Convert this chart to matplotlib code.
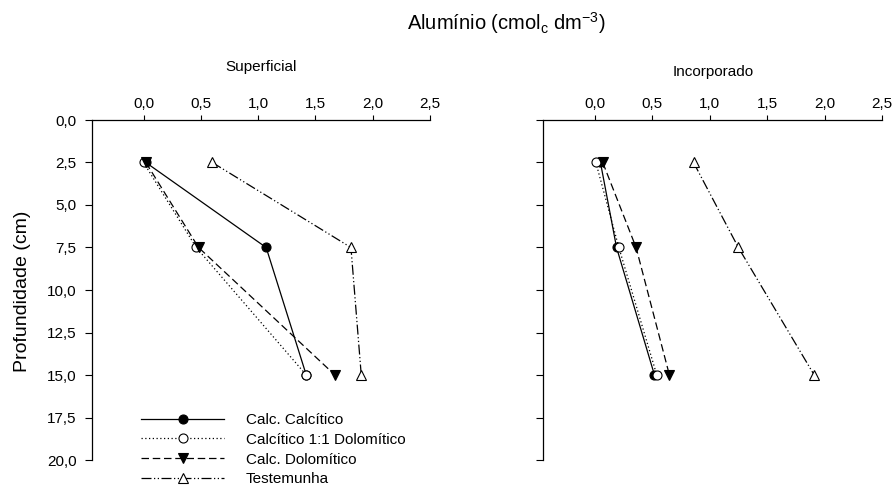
import matplotlib
matplotlib.use("Agg")
import matplotlib.pyplot as plt

plt.rcParams["font.family"] = ["Liberation Sans", "DejaVu Sans"]
plt.rcParams["mathtext.fontset"] = "custom"
plt.rcParams["mathtext.rm"] = "Liberation Sans"
plt.rcParams["mathtext.it"] = "Liberation Sans"

# profundidades (cm)
profundidade = [2.5, 7.5, 15.0]

# Superficial
sup_calcitico = [0.02, 1.07, 1.42]
sup_mistura = [0.00, 0.46, 1.42]
sup_dolomitico = [0.02, 0.48, 1.67]
sup_testemunha = [0.60, 1.81, 1.90]

# Incorporado
inc_calcitico = [0.05, 0.19, 0.52]
inc_mistura = [0.01, 0.21, 0.54]
inc_dolomitico = [0.07, 0.36, 0.65]
inc_testemunha = [0.86, 1.25, 1.91]

nomes = ["Calc. Calcítico", "Calcítico 1:1 Dolomítico",
         "Calc. Dolomítico", "Testemunha"]

estilos = [
    dict(linestyle="-", marker="o", mfc="black"),
    dict(linestyle=(0, (1, 2)), marker="o", mfc="white"),
    dict(linestyle=(0, (6, 3)), marker="v", mfc="black"),
    dict(linestyle=(0, (8, 2, 1, 2, 1, 2)), marker="^", mfc="white"),
]

xticks = [0.0, 0.5, 1.0, 1.5, 2.0, 2.5]
yticks = [0.0, 2.5, 5.0, 7.5, 10.0, 12.5, 15.0, 17.5, 20.0]


def virgula(v):
    return f"{v:.1f}".replace(".", ",")


fig = plt.figure(figsize=(8.95, 4.86), dpi=100)
ax1 = fig.add_axes([92 / 895, 1 - 460 / 486, (430 - 92) / 895, 340 / 486])
ax2 = fig.add_axes([543 / 895, 1 - 460 / 486, (882 - 543) / 895, 340 / 486])

series = [
    (ax1, [sup_calcitico, sup_mistura, sup_dolomitico, sup_testemunha]),
    (ax2, [inc_calcitico, inc_mistura, inc_dolomitico, inc_testemunha]),
]

for ax, dados in series:
    for valores, nome, est in zip(dados, nomes, estilos):
        ax.plot(valores, profundidade, color="black", lw=0.9,
                ms=6.5, mec="black", mew=0.8, label=nome, **est)
    ax.set_xlim(-0.45, 2.5)
    ax.set_ylim(20, 0)
    ax.xaxis.tick_top()
    ax.set_xticks(xticks)
    ax.set_xticklabels([virgula(v) for v in xticks], fontsize=11)
    ax.set_yticks(yticks)
    ax.tick_params(axis="x", direction="out", length=3.4, width=0.8, pad=3.2)
    ax.tick_params(axis="y", direction="out", length=4.8, width=0.8, pad=6.2)
    ax.spines["right"].set_visible(False)
    ax.spines["bottom"].set_visible(False)
    for s in ("top", "left"):
        ax.spines[s].set_linewidth(0.9)

ax1.set_yticklabels([virgula(v) for v in yticks], fontsize=11)
ax2.set_yticklabels([])

fig.text(261 / 895, 1 - 67 / 486, "Superficial", ha="center", va="center", fontsize=11)
fig.text(713 / 895, 1 - 72 / 486, "Incorporado", ha="center", va="center", fontsize=11)
fig.text(506 / 895, 1 - 23 / 486, r"Alumínio (cmol$_\mathrm{c}$ dm$^{\mathrm{-3}}$)",
         ha="center", va="center", fontsize=14.5)
fig.text(23 / 895, 1 - 291 / 486, "Profundidade (cm)", rotation=90,
         ha="center", va="center", fontsize=14)

ax1.legend(loc="upper left", bbox_to_anchor=(141 / 895, 1 - 413 / 486),
           bbox_transform=fig.transFigure, frameon=False, fontsize=11,
           handlelength=5.45, handletextpad=1.4, labelspacing=0.38,
           borderpad=0, borderaxespad=0)

fig.savefig("out.png", dpi=100)
